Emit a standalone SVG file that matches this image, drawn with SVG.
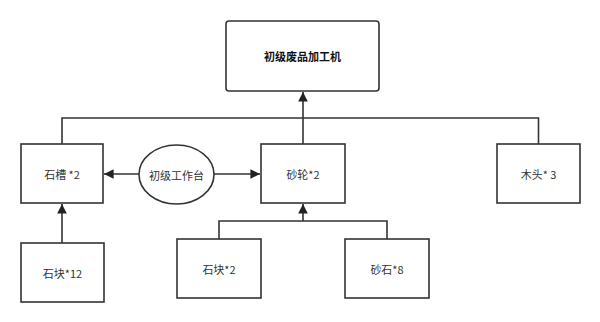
<svg xmlns="http://www.w3.org/2000/svg" width="600" height="322" viewBox="0 0 600 322">
<style>
.box{fill:#fff;stroke:#333;stroke-width:1.6}
.ln{fill:none;stroke:#333;stroke-width:1.6}
text{font-family:"Noto Sans CJK SC","Liberation Sans",sans-serif;font-size:11px;fill:#333;text-anchor:middle;dominant-baseline:central}
.b{font-weight:bold;fill:#111}
</style>
<defs>
<marker id="ah" viewBox="0 0 10 10" refX="10" refY="5" markerWidth="6" markerHeight="6" orient="auto" markerUnits="strokeWidth">
<path d="M0,0 L10,5 L0,10 z" fill="#222"/>
</marker>
</defs>
<rect width="600" height="322" fill="#fff"/>
<g id="connectors">
<polyline class="ln" points="62,144 62,118 538.5,118 538.5,144"/>
<line class="ln" x1="303" y1="144" x2="303" y2="92" marker-end="url(#ah)"/>
<line class="ln" x1="62" y1="243" x2="62" y2="204" marker-end="url(#ah)"/>
<polyline class="ln" points="219,239 219,221 387,221 387,239"/>
<line class="ln" x1="303" y1="221" x2="303" y2="204" marker-end="url(#ah)"/>
<line class="ln" x1="139" y1="174" x2="104" y2="174" marker-end="url(#ah)"/>
<line class="ln" x1="214" y1="174" x2="260" y2="174" marker-end="url(#ah)"/>
</g>
<g id="n_top"><rect class="box" x="226" y="21" width="153" height="70" rx="3"/><text class="b" x="302.5" y="56">初级废品加工机</text></g>
<g id="n_shicao"><rect class="box" x="21" y="144" width="82" height="59"/><text x="62" y="174">石槽 *2</text></g>
<g id="n_gongzuotai"><ellipse class="box" cx="176.5" cy="174.5" rx="37.5" ry="29.5"/><text x="176.5" y="174.5">初级工作台</text></g>
<g id="n_shalun"><rect class="box" x="261" y="144" width="84" height="59"/><text x="303" y="174">砂轮*2</text></g>
<g id="n_mutou"><rect class="box" x="497" y="144" width="83" height="59"/><text x="538.5" y="174">木头* 3</text></g>
<g id="n_shikuai12"><rect class="box" x="21" y="243" width="83" height="59"/><text x="62.5" y="273">石块*12</text></g>
<g id="n_shikuai2"><rect class="box" x="177" y="239" width="84" height="59"/><text x="219" y="269">石块*2</text></g>
<g id="n_shashi"><rect class="box" x="345" y="239" width="84" height="59"/><text x="387" y="269">砂石*8</text></g>
</svg>
